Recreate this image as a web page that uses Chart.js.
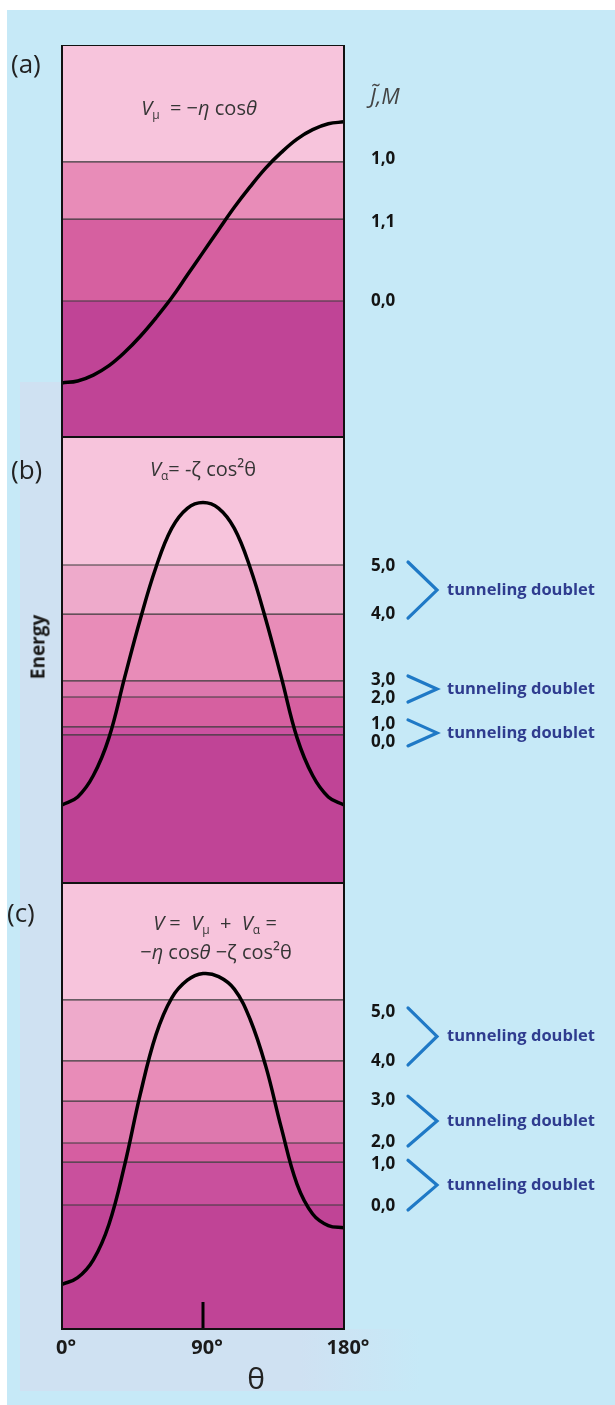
<!DOCTYPE html>
<html>
<head>
<meta charset="utf-8">
<script src="https://cdn.jsdelivr.net/npm/chart.js@4.4.1/dist/chart.umd.min.js"></script>
<style>
html,body{margin:0;padding:0;background:#fff;}
#page{position:relative;width:615px;height:1405px;overflow:hidden;font-family:"Open Sans",sans-serif;}
.abs{position:absolute;}
.txt{position:absolute;white-space:nowrap;transform:translate(-50%,-50%);line-height:1;}
.lt{position:absolute;white-space:nowrap;transform:translate(0,-50%);line-height:1;}
.f{font-family:"Open Sans",sans-serif;font-size:20px;color:#353535;}
.f sub{font-size:0.6em;vertical-align:-0.3em;line-height:0;}
canvas{display:block;}
</style>
</head>
<body>
<div id="page">
  <div class="abs" style="left:7px;top:10px;width:608px;height:1395px;background:#c6e9f7"></div>
  <div class="abs" style="left:20px;top:382px;width:42px;height:1009px;background:#cfe1f2"></div>
  <div class="abs" style="left:20px;top:1329px;width:400px;height:62px;background:linear-gradient(to right,#cfe1f2 0%,#cfe1f2 70%,#c6e9f7 100%)"></div>

  <div class="abs" style="left:0;top:45px;width:615px;height:392px"><canvas id="chartA" width="615" height="392"></canvas></div>
  <div class="abs" style="left:0;top:437px;width:615px;height:446px"><canvas id="chartB" width="615" height="446"></canvas></div>
  <div class="abs" style="left:0;top:883px;width:615px;height:522px"><canvas id="chartC" width="615" height="522"></canvas></div>

  <div class="lt" style="left:11px;top:63px;font-size:26px;color:#222">(a)</div>
  <div class="lt" style="left:11px;top:469px;font-size:26px;color:#222">(b)</div>
  <div class="lt" style="left:7px;top:912px;font-size:26px;color:#222">(c)</div>

  <div class="txt f" style="left:199px;top:108px"><i>V</i><sub>μ</sub>&nbsp; = −<i>η</i> cos<i>θ</i></div>
  <div class="txt f" style="left:203px;top:469px"><i>V</i><sub>α</sub>= -ζ cos²θ</div>
  <div class="txt f" style="left:215px;top:923px"><i>V</i> = &nbsp;<i>V</i><sub>μ</sub> &nbsp;+ &nbsp;<i>V</i><sub>α</sub> =</div>
  <div class="txt f" style="left:216px;top:952px">−<i>η</i> cos<i>θ</i> −ζ cos²θ</div>

  <div class="lt" style="left:370px;top:95px;font-size:22px;font-style:italic;color:#444">J̃,M</div>
  <div class="txt" style="left:38px;top:647px;transform:translate(-50%,-50%) rotate(-90deg);font-size:19px;font-weight:700;color:#1a1a1a">Energy</div>
  <div class="txt" style="left:256px;top:1378px;font-size:30px;color:#222">θ</div>
</div>

<script>
// ---------- data ----------
const thetaDeg = [0, 10, 20, 30, 40, 50, 60, 70, 80, 90, 100, 110, 120, 130, 140, 150, 160, 170, 180];
const xTicks = [0, 90, 180];

// panel (a): V_mu = -eta cos(theta)
const potentialA = [13.8, 14.3, 15.8, 18.2, 21.6, 25.7, 30.4, 35.5, 41.3, 47.1, 52.9, 58.6, 63.8, 68.6, 72.6, 76.0, 78.4, 79.9, 80.4];
const levelsA = [34.7, 55.6, 70.2];
const levelLabelsA = ['0,0', '1,1', '1,0'];

// panel (b): V_alpha = -zeta cos^2(theta)
const potentialB = [17.5, 19.3, 24.1, 32.6, 46.1, 59.2, 70.8, 79.5, 84.0, 85.3, 84.0, 79.5, 70.8, 59.2, 46.1, 32.6, 24.1, 19.3, 17.5];
const levelsB = [33.2, 35.0, 41.7, 45.3, 60.3, 71.3];
const levelLabelsB = ['0,0', '1,0', '2,0', '3,0', '4,0', '5,0'];

// panel (c): V = V_mu + V_alpha
const potentialC = [10.0, 11.5, 15.5, 23.5, 36.8, 52.7, 66.0, 74.2, 78.2, 79.7, 79.0, 76.2, 69.5, 59.0, 45.1, 32.5, 25.8, 23.2, 22.7];
const levelsC = [27.8, 37.4, 41.7, 51.1, 60.1, 73.8];
const levelLabelsC = ['0,0', '1,0', '2,0', '3,0', '4,0', '5,0'];

// tunneling doublets: pairs of level indices
const doubletPairs = [[0, 1], [2, 3], [4, 5]];
const doubletText = 'tunneling doublet';

// ---------- styles ----------
const bandColorsA = ['#c04496', '#d660a0', '#e88cb8', '#f7c4dc'];
const bandColorsB = ['#c04496', '#cb52a0', '#d660a0', '#de78ae', '#e88cb8', '#eeaacb', '#f7c4dc'];
const bandColorsC = ['#c04496', '#c9509d', '#d65ea1', '#de78ae', '#e88cb8', '#eeaacb', '#f7c4dc'];
const labelOffsetsA = [0, 3, -3];
const labelOffsetsB = [7, -3, 1, -1, 0, 1];
const labelOffsetsC = [1, 2, -1, -1, 0, 12];

const FONT = '"Open Sans", sans-serif';

function buildDatasets(pot, levels, colors) {
  const ds = [];
  ds.push({
    label: 'V', data: thetaDeg.map((t, i) => ({x: t, y: pot[i]})),
    borderColor: '#000', borderWidth: 3.5, pointRadius: 0,
    tension: 0.4, fill: false
  });
  levels.forEach((L, i) => {
    ds.push({
      label: 'level' + i, data: [{x: 0, y: L}, {x: 180, y: L}],
      borderColor: '#3a3a3a', borderWidth: 1.2, pointRadius: 0, tension: 0,
      backgroundColor: colors[i], fill: i === 0 ? 'start' : '-1'
    });
  });
  ds.push({
    label: 'top', data: [{x: 0, y: 100}, {x: 180, y: 100}],
    borderWidth: 0, borderColor: 'rgba(0,0,0,0)', pointRadius: 0, tension: 0,
    backgroundColor: colors[levels.length], fill: '-1'
  });
  return ds;
}

function decorPlugin(levels, labels, offsets, pairs, withTick) {
  return {
    id: 'decor',
    afterDraw(chart) {
      const ctx = chart.ctx, a = chart.chartArea, ys = chart.scales.y, xs = chart.scales.x;
      ctx.save();
      if (withTick) {
        const px = xs.getPixelForValue(90);
        ctx.strokeStyle = '#000'; ctx.lineWidth = 3;
        ctx.beginPath(); ctx.moveTo(px, a.bottom - 27); ctx.lineTo(px, a.bottom); ctx.stroke();
      }
      ctx.strokeStyle = '#111'; ctx.lineWidth = 2;
      ctx.strokeRect(a.left, a.top, a.right - a.left, a.bottom - a.top);
      const labelY = levels.map((L, i) => ys.getPixelForValue(L) + offsets[i]);
      ctx.fillStyle = '#141414';
      ctx.font = 'bold 17px ' + FONT;
      ctx.textAlign = 'left'; ctx.textBaseline = 'middle';
      labels.forEach((t, i) => ctx.fillText(t, a.right + 27, labelY[i]));
      if (pairs) {
        pairs.forEach(([lo, hi]) => {
          const yTop = labelY[hi] - 4, yBot = labelY[lo] + 4, yMid = (yTop + yBot) / 2;
          ctx.strokeStyle = '#1f79c6'; ctx.lineWidth = 3.2; ctx.lineCap = 'round'; ctx.lineJoin = 'miter';
          ctx.beginPath();
          ctx.moveTo(a.right + 64, yTop); ctx.lineTo(a.right + 93, yMid); ctx.lineTo(a.right + 64, yBot);
          ctx.stroke();
          ctx.fillStyle = '#2f3c8f';
          ctx.font = 'bold 16.5px ' + FONT;
          ctx.fillText(doubletText, a.right + 103, yMid);
        });
      }
      ctx.restore();
    }
  };
}

function makeChart(id, pot, levels, labels, colors, offsets, pairs, isBottom) {
  const xScale = {
    type: 'linear', min: 0, max: 180, display: !!isBottom,
    grid: {display: false, drawTicks: false}, border: {display: false},
    ticks: {
      font: {family: FONT, weight: 'bold', size: 20}, color: '#1a1a1a', padding: 7,
      labelOffset: 4, maxRotation: 0, autoSkip: false, callback: v => v + '°'
    },
    afterBuildTicks: s => { s.ticks = xTicks.map(v => ({value: v})); },
    afterFit: s => { if (isBottom) s.height = 60; }
  };
  return new Chart(document.getElementById(id), {
    type: 'line',
    data: {datasets: buildDatasets(pot, levels, colors)},
    options: {
      responsive: false, animation: false, devicePixelRatio: 1,
      layout: {padding: {left: 62, right: 271, top: 0, bottom: isBottom ? 16 : 0}},
      plugins: {legend: {display: false}, tooltip: {enabled: false}, filler: {propagate: false}},
      scales: {x: xScale, y: {type: 'linear', min: 0, max: 100, display: false}}
    },
    plugins: [decorPlugin(levels, labels, offsets, pairs, isBottom)]
  });
}

makeChart('chartA', potentialA, levelsA, levelLabelsA, bandColorsA, labelOffsetsA, null, false);
makeChart('chartB', potentialB, levelsB, levelLabelsB, bandColorsB, labelOffsetsB, doubletPairs, false);
makeChart('chartC', potentialC, levelsC, levelLabelsC, bandColorsC, labelOffsetsC, doubletPairs, true);
</script>
</body>
</html>
